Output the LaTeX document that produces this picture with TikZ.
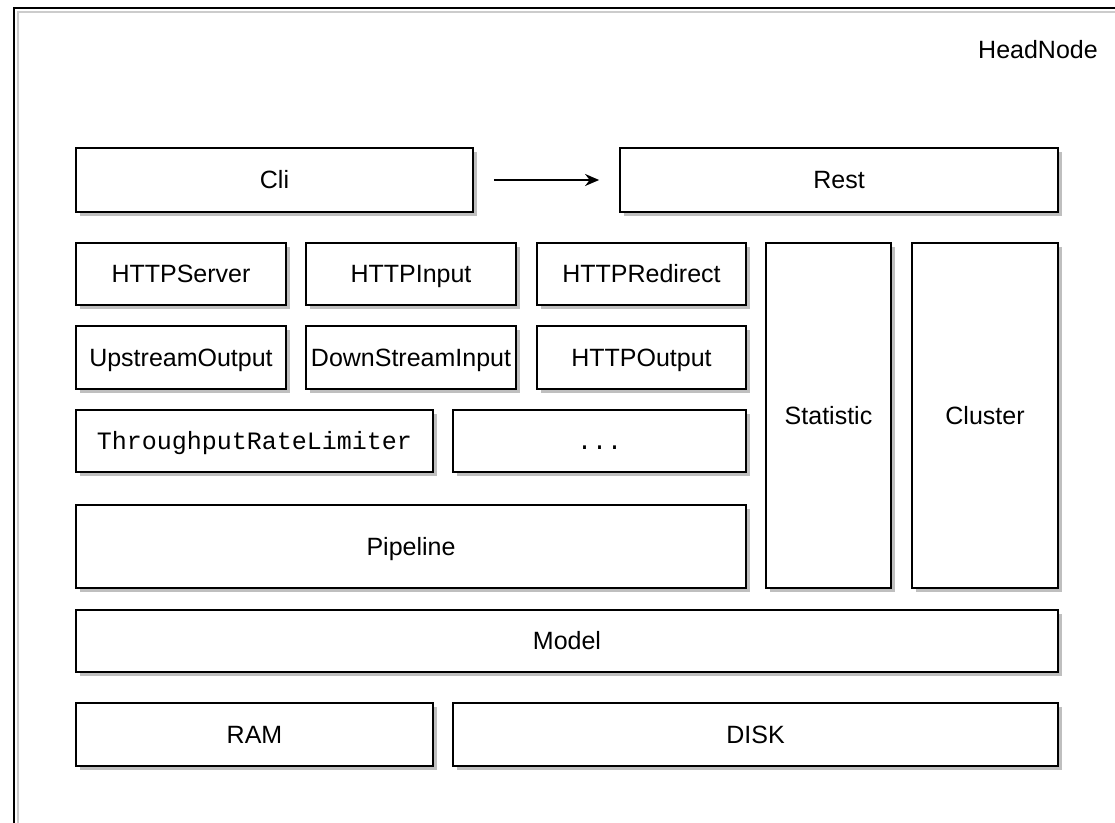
\documentclass[tikz,border=0pt]{standalone}
\usepackage{fontspec}
\setmainfont{Liberation Sans}
\setmonofont{Liberation Mono}
\usetikzlibrary{arrows.meta,fit,shadows,positioning}

\begin{document}
\begin{tikzpicture}[x=0.5pt,y=-0.5pt,
  every label/.style={font=\fontsize{12.5}{14}\selectfont, inner sep=0pt,
    text height=9pt, text depth=0pt},
  box/.style={draw, line width=0.9pt, fill=white, inner sep=0pt,
    drop shadow={shadow xshift=1.8pt, shadow yshift=-1.8pt, fill=black!25, opacity=1},
    label=center:{#1}}]

\useasboundingbox (0,0) rectangle (1115,823);

% outer frame
\draw[black!20, line width=1pt] (18,830) -- (18,12) -- (1120,12);
\draw[line width=1.3pt] (14,830) -- (14,8) -- (1120,8);
\node[font=\fontsize{12.5}{14}\selectfont] (head) at (1038,50) {HeadNode};

% top row
\node[box=Cli, fit={(76,148) (473,212)}] (cli) {};
\node[box=Rest, fit={(620,148) (1058,212)}] (rest) {};
\draw[-{Stealth[length=7pt,width=6pt]}, line width=0.8pt, shorten <=10pt, shorten >=10pt] (cli) -- (rest);

% modules
\node[box=HTTPServer, fit={(76,243) (286,305)}] (server) {};
\node[box=HTTPInput, fit={(306,243) (516,305)}] (input) {};
\node[box=HTTPRedirect, fit={(537,243) (746,305)}] (redirect) {};

\node[box=UpstreamOutput, fit={(76,326) (286,389)}] (upstream) {};
\node[box=DownStreamInput, fit={(306,326) (516,389)}] (downstream) {};
\node[box=HTTPOutput, fit={(537,326) (746,389)}] (output) {};

\node[box=\texttt{ThroughputRateLimiter}, fit={(76,410) (433,472)}] (limiter) {};
\node[box=\texttt{...}, fit={(453,410) (746,472)}] (more) {};

\node[box=Pipeline, fit={(76,505) (746,588)}] (pipeline) {};

% side columns
\node[box=Statistic, fit={(766,243) (891,588)}] (stat) {};
\node[box=Cluster, fit={(912,243) (1058,588)}] (cluster) {};

% storage
\node[box=Model, fit={(76,610) (1058,672)}] (model) {};
\node[box=RAM, fit={(76,703) (433,766)}] (ram) {};
\node[box=DISK, fit={(453,703) (1058,766)}] (disk) {};

\end{tikzpicture}
\end{document}
